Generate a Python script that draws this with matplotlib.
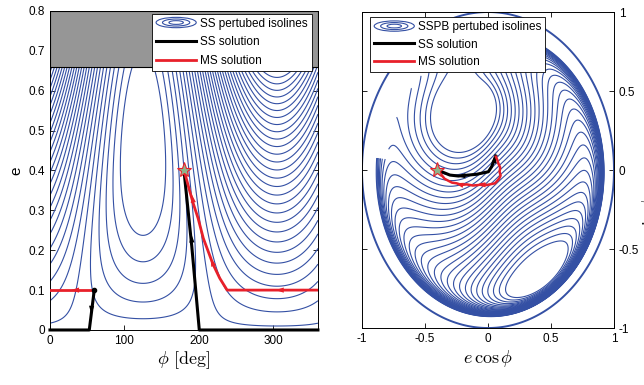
import numpy as np
import matplotlib
matplotlib.use('Agg')
import matplotlib.pyplot as plt
from matplotlib.legend_handler import HandlerBase
from matplotlib.patches import Ellipse
from matplotlib.lines import Line2D

plt.rcParams['font.family'] = ['Liberation Sans', 'DejaVu Sans']
plt.rcParams['mathtext.fontset'] = 'cm'
plt.rcParams['font.size'] = 8.5
plt.rcParams['contour.negative_linestyle'] = 'solid'

blue = '#3450a4'
red = '#e8202a'
star_fill = '#8fb48a'

# ---- SS field parameters (left panel) ----
e_cut = 0.66            # top of the valid region
phi_lo = 125.0          # direction of the isoline centre [deg]
e_lo = 0.47             # eccentricity of the isoline centre
v_coef = 1.0
lvl_base = 0.0101
lvl_step = 0.0375

# ---- SSPB field parameters (right panel) ----
xy_lo = (-0.15, 0.48)   # basin centre
ridge_r = 0.84          # radius of the ridge before the dense ring
basin_t0, basin_tl = 0.2, 0.25
amp_dir, amp_pow = -62.0, 1.2
amp_lo, amp_hi = 0.12, 0.95
peak_dir, peak_amp, peak_w = -66.0, 0.32, 24.0
ring_s, ring_p = 0.0176, 2
gap_dir, gap_r = 135.0, 0.80
lvl_lo_r, lvl_n_r, lvl_step_r = 0.15, 31, 0.025

# ---- trajectories, left panel (phi [deg], e) ----
ss_phi_a = [59.5, 52.8, 0.0]
ss_e_a = [0.10, 0.0, 0.0]
ss_phi_b = [360.0, 200.6, 190.5, 180.0]
ss_e_b = [0.0, 0.0, 0.21, 0.40]
ms_phi_a = [59.5, 0.0]
ms_e_a = [0.10, 0.10]
ms_phi_b = [360.0, 238.0, 228.0, 219.0, 212.0, 206.0, 199.0, 192.0, 186.0, 181.0]
ms_e_b = [0.10, 0.10, 0.13, 0.165, 0.20, 0.23, 0.28, 0.32, 0.36, 0.395]
star_phi, star_e = 180.0, 0.40

# ---- trajectories, right panel (e cos phi, e sin phi) ----
ss_x = [0.061, 0.045, 0.029, 0.003, -0.090, -0.235, -0.302, -0.402]
ss_y = [0.089, 0.055, 0.021, -0.011, -0.027, -0.038, -0.032, 0.0]
ms_x = [0.063, 0.075, 0.082, 0.097, 0.092, 0.100, 0.090, 0.070, 0.056, 0.020, -0.011,
        -0.040, -0.077, -0.120, -0.169, -0.210, -0.249, -0.285, -0.315, -0.345, -0.368, -0.402]
ms_y = [0.084, 0.062, 0.042, 0.015, -0.011, -0.035, -0.053, -0.072, -0.084, -0.090, -0.095,
        -0.088, -0.095, -0.098, -0.091, -0.094, -0.084, -0.080, -0.068, -0.055, -0.032, 0.0]
star_x, star_y = -0.402, 0.0


class ContourHandler(HandlerBase):
    def create_artists(self, legend, orig_handle, xdescent, ydescent,
                       width, height, fontsize, trans):
        cx = width / 2 - xdescent
        cy = height / 2 - ydescent
        arts = []
        for f in (1.0, 0.68, 0.36):
            arts.append(Ellipse((cx, cy), width * f, height * 1.25 * f, fill=False,
                                edgecolor=blue, lw=0.8, transform=trans))
        return arts


def arrow(ax, x0, y0, x1, y1, color):
    ax.annotate('', xy=(x1, y1), xytext=(x0, y0),
                arrowprops=dict(arrowstyle='-|>,head_length=0.7,head_width=0.22',
                                color=color, lw=0, shrinkA=0, shrinkB=0))


fig = plt.figure(figsize=(6.44, 3.85), dpi=100)
ax1 = fig.add_axes([0.0776, 0.1429, 0.4161, 0.8286])
ax2 = fig.add_axes([0.5621, 0.1480, 0.3913, 0.8208])

# ---------------- left panel ----------------
phi = np.linspace(0, 360, 721)
ee = np.linspace(0, e_cut, 400)
P, E = np.meshgrid(phi, ee)
a = np.radians(P - (phi_lo + 180.0))
U = E * np.cos(a)
V = E * np.sin(a)
H = U + U ** 2 / (2 * e_lo) + v_coef * V ** 2
levels = lvl_base + lvl_step * np.arange(-5, 45)
ax1.contour(P, E, H, levels=levels, colors=blue, linewidths=0.8)
ax1.fill_between([0, 360], e_cut, 0.8, color='#969696', edgecolor='k', lw=0.8, zorder=2)

ax1.plot(ss_phi_a, ss_e_a, color='k', lw=2.2, zorder=4, clip_on=False)
ax1.plot(ss_phi_b, ss_e_b, color='k', lw=2.2, zorder=4, clip_on=False)
ax1.plot(ms_phi_a, ms_e_a, color=red, lw=2.0, zorder=5)
ax1.plot(ms_phi_b, ms_e_b, color=red, lw=2.0, zorder=5)
ax1.plot(ss_phi_a[0], ss_e_a[0], 'o', color='k', ms=3, zorder=6)
arrow(ax1, 56.0, 0.065, 55.6, 0.04, 'k')
arrow(ax1, 191.5, 0.19, 190.0, 0.24, 'k')
arrow(ax1, 40.0, 0.10, 28.0, 0.10, red)
arrow(ax1, 315.0, 0.10, 303.0, 0.10, red)
arrow(ax1, 221.0, 0.155, 216.0, 0.18, red)
arrow(ax1, 193.5, 0.31, 190.5, 0.34, red)
ax1.plot(star_phi, star_e, marker='*', ms=11, mfc=star_fill, mec=red, mew=0.8, zorder=7)

ax1.set_xlim(0, 360)
ax1.set_ylim(0, 0.8)
ax1.set_xticks([0, 100, 200, 300])
ax1.set_yticks(np.arange(0, 0.81, 0.1))
ax1.set_yticklabels(['0', '0.1', '0.2', '0.3', '0.4', '0.5', '0.6', '0.7', '0.8'])
ax1.tick_params(direction='in', top=True, right=True, length=3.5, width=0.6, labelsize=8.5)
ax1.set_xlabel(r'$\phi\ \mathrm{[deg]}$', fontsize=13, labelpad=2)
ax1.set_ylabel('e', fontsize=11, labelpad=4)

h_iso = Line2D([], [], color=blue)
h_ss = Line2D([], [], color='k', lw=2.2)
h_ms = Line2D([], [], color=red, lw=2.0)
leg1 = ax1.legend([h_iso, h_ss, h_ms], ['SS pertubed isolines', 'SS solution', 'MS solution'],
                  handler_map={h_iso: ContourHandler()}, loc='upper right',
                  bbox_to_anchor=(0.976, 0.992), borderaxespad=0, fancybox=False,
                  edgecolor='k', framealpha=1, handlelength=3.4, handletextpad=0.3,
                  labelspacing=0.55, borderpad=0.35, fontsize=8.5)
leg1.get_frame().set_linewidth(0.6)
leg1.set_zorder(10)

# ---------------- right panel ----------------
g = np.linspace(-1.02, 1.02, 900)
X, Y = np.meshgrid(g, g)
R = np.hypot(X, Y)
mx, my = xy_lo
dx = X - mx
dy = Y - my
rho = np.hypot(dx, dy) + 1e-9
ux, uy = dx / rho, dy / rho
md = mx * ux + my * uy
dist = -md + np.sqrt(md ** 2 - (mx ** 2 + my ** 2 - ridge_r ** 2))
t = rho / dist
th = np.arctan2(dy, dx)
thd = np.degrees(th)
dth = (thd - amp_dir + 180) % 360 - 180
dpk = (thd - peak_dir + 180) % 360 - 180
amp = (amp_lo + (amp_hi - amp_lo) * ((1 + np.cos(np.radians(dth))) / 2) ** amp_pow
       + peak_amp * np.exp(-(dpk / peak_w) ** 2))
t0 = basin_t0 + basin_tl * ((1 - np.cos(th)) / 2) ** 2
ang = np.degrees(np.arctan2(Y, X)) % 360
dang = (ang - gap_dir + 180) % 360 - 180
w = 1 - 0.95 * np.exp(-(dang / 30.0) ** 2)
Rin = np.clip(R, 0, 0.995)
Hr = lvl_lo_r - 0.01 + amp * (t - t0) - ring_s * w * (1 / (1 - Rin ** 2) ** ring_p - 1)
bad = (R >= 0.995) | ((np.abs(dang) < 40) & (R > gap_r))
Hr = np.where(bad, np.nan, Hr)
lv_r = lvl_lo_r + lvl_step_r * np.arange(lvl_n_r)
ax2.contour(X, Y, Hr, levels=lv_r, colors=blue, linewidths=0.8)

gb = np.linspace(-1.05, 1.05, 140)
XB, YB = np.meshgrid(gb, gb)
ax2.contour(XB, YB, np.hypot(XB, YB), levels=[1.0], colors=blue, linewidths=1.4)

ax2.plot(ss_x, ss_y, color='k', lw=2.2, zorder=4)
ax2.plot(ms_x, ms_y, color=red, lw=1.8, zorder=5)
arrow(ax2, -0.20, -0.037, -0.245, -0.038, 'k')
arrow(ax2, 0.052, 0.06, 0.063, 0.095, 'k')
arrow(ax2, -0.22, -0.092, -0.26, -0.084, red)
arrow(ax2, -0.04, -0.094, -0.085, -0.096, red)
ax2.plot(star_x, star_y, marker='*', ms=11, mfc=star_fill, mec=red, mew=0.8, zorder=7)

ax2.set_xlim(-1, 1)
ax2.set_ylim(-1, 1)
ax2.set_xticks([-1, -0.5, 0, 0.5, 1])
ax2.set_xticklabels(['-1', '-0.5', '0', '0.5', '1'])
ax2.set_yticks([-1, -0.5, 0, 0.5, 1])
ax2.set_yticklabels(['-1', '-0.5', '0', '0.5', '1'])
ax2.yaxis.tick_right()
ax2.tick_params(direction='in', top=True, left=True, right=True, length=3.5, width=0.6,
                labelsize=8.5)
ax2.set_xlabel(r'$e\,\cos\phi$', fontsize=13, labelpad=2)
fig.text(0.9935, 0.43, r'$e\,\sin\phi$', rotation=90, ha='left', va='center', fontsize=13)

h_iso2 = Line2D([], [], color=blue)
leg2 = ax2.legend([h_iso2, h_ss, h_ms], ['SSPB pertubed isolines', 'SS solution', 'MS solution'],
                  handler_map={h_iso2: ContourHandler()}, loc='upper left',
                  bbox_to_anchor=(0.032, 0.984), borderaxespad=0, fancybox=False,
                  edgecolor='k', framealpha=1, handlelength=3.4, handletextpad=0.3,
                  labelspacing=0.45, borderpad=0.35, fontsize=8.5)
leg2.get_frame().set_linewidth(0.6)
leg2.set_zorder(10)

for ax in (ax1, ax2):
    for s in ax.spines.values():
        s.set_linewidth(0.7)

fig.savefig('out.png', dpi=100)
